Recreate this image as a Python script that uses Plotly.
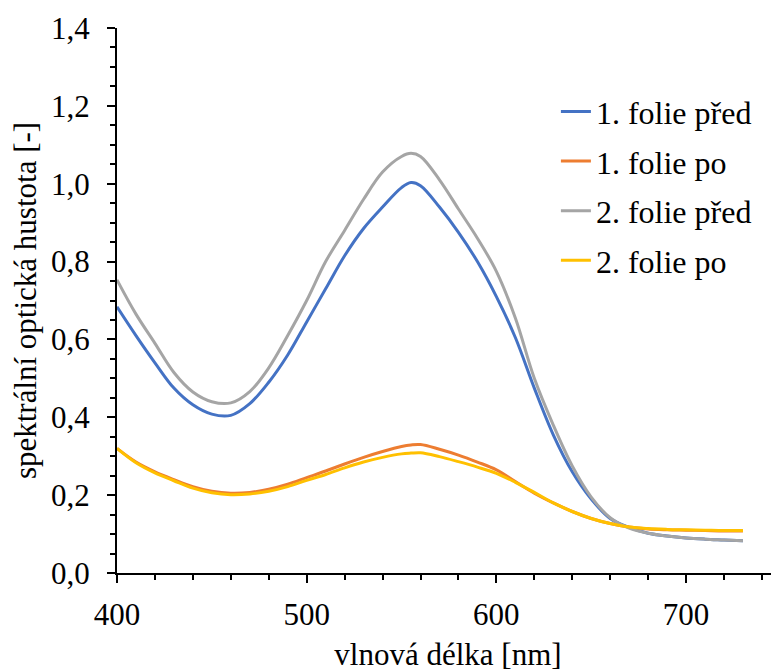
import plotly.graph_objects as go

wavelength = [400, 410, 420, 430, 440, 450, 460, 470, 480, 490, 500, 510, 520, 530, 540, 550, 555, 560,
              570, 580, 590, 600, 610, 620, 630, 640, 650, 660, 670, 680, 690, 700, 710, 720, 730]

folie1_pred = [0.684, 0.61, 0.54, 0.475, 0.432, 0.408, 0.405, 0.435, 0.49, 0.56, 0.645, 0.73, 0.815, 0.885,
               0.94, 0.99, 1.003, 0.995, 0.94, 0.875, 0.80, 0.71, 0.605, 0.475, 0.355, 0.26, 0.19, 0.14,
               0.117, 0.102, 0.095, 0.09, 0.087, 0.085, 0.083]
folie1_po = [0.32, 0.285, 0.26, 0.24, 0.222, 0.21, 0.205, 0.207, 0.215, 0.228, 0.245, 0.262, 0.28, 0.297,
             0.312, 0.325, 0.329, 0.33, 0.318, 0.303, 0.285, 0.265, 0.235, 0.205, 0.18, 0.158, 0.14, 0.127,
             0.118, 0.113, 0.111, 0.11, 0.109, 0.108, 0.108]
folie2_pred = [0.753, 0.665, 0.59, 0.515, 0.465, 0.44, 0.437, 0.466, 0.527, 0.61, 0.70, 0.80, 0.88, 0.96,
               1.03, 1.07, 1.078, 1.07, 1.01, 0.935, 0.86, 0.775, 0.655, 0.50, 0.38, 0.275, 0.195, 0.142,
               0.115, 0.102, 0.095, 0.09, 0.087, 0.085, 0.083]
folie2_po = [0.32, 0.283, 0.257, 0.237, 0.218, 0.206, 0.201, 0.203, 0.21, 0.222, 0.238, 0.253, 0.27, 0.285,
             0.297, 0.306, 0.308, 0.309, 0.299, 0.286, 0.272, 0.256, 0.233, 0.207, 0.18, 0.158, 0.14, 0.127,
             0.118, 0.114, 0.112, 0.111, 0.11, 0.109, 0.109]

series_names = ["1. folie před", "1. folie po", "2. folie před", "2. folie po"]
series_values = [folie1_pred, folie1_po, folie2_pred, folie2_po]
colors = ["#4472C4", "#ED7D31", "#A5A5A5", "#FFC000"]

SERIF = "Liberation Serif"

fig = go.Figure()
for name, vals, col in zip(series_names, series_values, colors):
    fig.add_trace(go.Scatter(x=wavelength, y=vals, name=name, mode="lines",
                             line=dict(color=col, width=3, shape="spline", smoothing=1.0),
                             legendgroup=name))

fig.update_layout(
    width=779, height=671,
    margin=dict(l=109, r=8, t=20, b=106),
    paper_bgcolor="white", plot_bgcolor="white",
    separators=", ",
    font=dict(family=SERIF, color="black", size=31),
    showlegend=True,
    legend=dict(x=0.663, y=0.897, xanchor="left", yanchor="top",
                font=dict(family=SERIF, size=32, color="black"),
                bgcolor="rgba(0,0,0,0)", tracegroupgap=5),
)
fig.update_xaxes(range=[400, 749], dtick=100, tick0=400, showgrid=False, zeroline=False,
                 automargin=False, showline=True, linecolor="black", linewidth=2,
                 ticks="outside", ticklen=8, tickwidth=2, tickcolor="black", ticklabelstandoff=5,
                 minor=dict(dtick=20, ticks="outside", ticklen=5, tickwidth=2, tickcolor="black"),
                 tickfont=dict(family=SERIF, size=31, color="black"),
                 title=dict(text="vlnová délka [nm]", font=dict(family=SERIF, size=31, color="black"), standoff=12))
fig.update_yaxes(range=[0, 1.4], dtick=0.2, tick0=0, tickformat=".1f", showgrid=False, zeroline=False,
                 automargin=False, showline=True, linecolor="black", linewidth=2,
                 ticks="outside", ticklen=8, tickwidth=2, tickcolor="black", ticklabelstandoff=11,
                 minor=dict(dtick=0.05, ticks="outside", ticklen=5, tickwidth=2, tickcolor="black"),
                 tickfont=dict(family=SERIF, size=31, color="black"),
                 title=dict(text="spektrální optická hustota [-]", font=dict(family=SERIF, size=31, color="black"), standoff=8))

fig.write_html("out.html")
